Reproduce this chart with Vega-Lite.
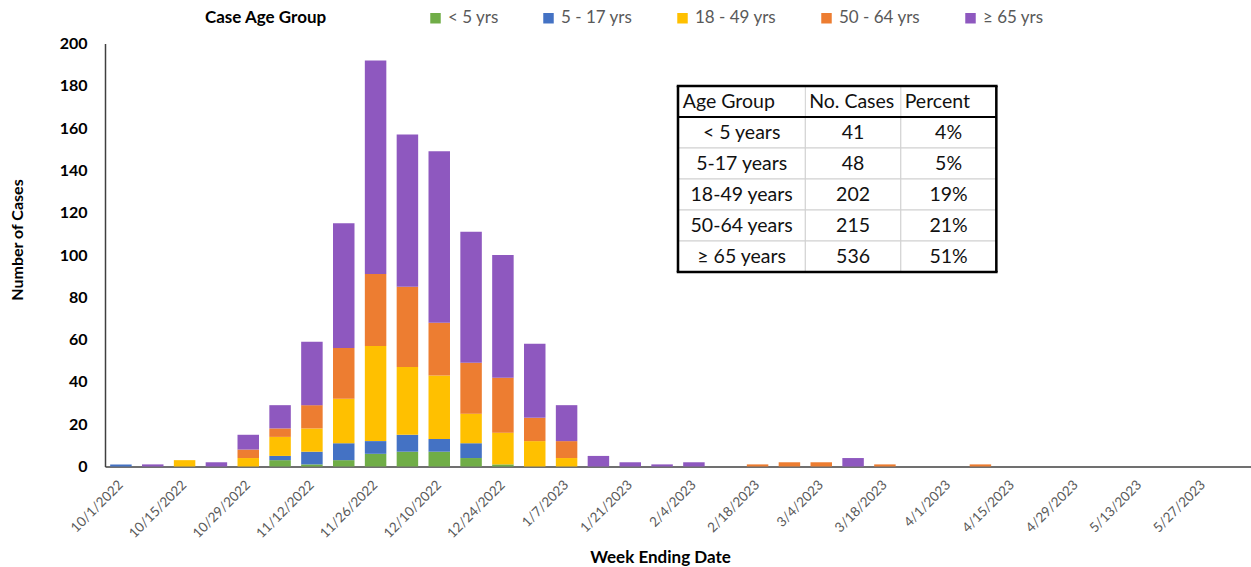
{
  "$schema": "https://vega.github.io/schema/vega-lite/v6.json",
  "autosize": {"type": "none"},
  "width": 1146,
  "height": 423,
  "padding": {"left": 105, "top": 43.5, "right": 0, "bottom": 100.5},
  "background": "white",
  "config": {"view": {"stroke": null}, "font": "Lato"},
  "datasets": {
    "groups": [
      {"group": "< 5 yrs", "rank": 1},
      {"group": "5 - 17 yrs", "rank": 2},
      {"group": "18 - 49 yrs", "rank": 3},
      {"group": "50 - 64 yrs", "rank": 4},
      {"group": "≥ 65 yrs", "rank": 5}
    ],
    "weekly": [
      {"week": "10/1/2022", "group": "5 - 17 yrs", "cases": 1},
      {"week": "10/8/2022", "group": "≥ 65 yrs", "cases": 1},
      {"week": "10/15/2022", "group": "18 - 49 yrs", "cases": 3},
      {"week": "10/22/2022", "group": "≥ 65 yrs", "cases": 2},
      {"week": "10/29/2022", "group": "18 - 49 yrs", "cases": 4},
      {"week": "10/29/2022", "group": "50 - 64 yrs", "cases": 4},
      {"week": "10/29/2022", "group": "≥ 65 yrs", "cases": 7},
      {"week": "11/5/2022", "group": "< 5 yrs", "cases": 3},
      {"week": "11/5/2022", "group": "5 - 17 yrs", "cases": 2},
      {"week": "11/5/2022", "group": "18 - 49 yrs", "cases": 9},
      {"week": "11/5/2022", "group": "50 - 64 yrs", "cases": 4},
      {"week": "11/5/2022", "group": "≥ 65 yrs", "cases": 11},
      {"week": "11/12/2022", "group": "< 5 yrs", "cases": 1},
      {"week": "11/12/2022", "group": "5 - 17 yrs", "cases": 6},
      {"week": "11/12/2022", "group": "18 - 49 yrs", "cases": 11},
      {"week": "11/12/2022", "group": "50 - 64 yrs", "cases": 11},
      {"week": "11/12/2022", "group": "≥ 65 yrs", "cases": 30},
      {"week": "11/19/2022", "group": "< 5 yrs", "cases": 3},
      {"week": "11/19/2022", "group": "5 - 17 yrs", "cases": 8},
      {"week": "11/19/2022", "group": "18 - 49 yrs", "cases": 21},
      {"week": "11/19/2022", "group": "50 - 64 yrs", "cases": 24},
      {"week": "11/19/2022", "group": "≥ 65 yrs", "cases": 59},
      {"week": "11/26/2022", "group": "< 5 yrs", "cases": 6},
      {"week": "11/26/2022", "group": "5 - 17 yrs", "cases": 6},
      {"week": "11/26/2022", "group": "18 - 49 yrs", "cases": 45},
      {"week": "11/26/2022", "group": "50 - 64 yrs", "cases": 34},
      {"week": "11/26/2022", "group": "≥ 65 yrs", "cases": 101},
      {"week": "12/3/2022", "group": "< 5 yrs", "cases": 7},
      {"week": "12/3/2022", "group": "5 - 17 yrs", "cases": 8},
      {"week": "12/3/2022", "group": "18 - 49 yrs", "cases": 32},
      {"week": "12/3/2022", "group": "50 - 64 yrs", "cases": 38},
      {"week": "12/3/2022", "group": "≥ 65 yrs", "cases": 72},
      {"week": "12/10/2022", "group": "< 5 yrs", "cases": 7},
      {"week": "12/10/2022", "group": "5 - 17 yrs", "cases": 6},
      {"week": "12/10/2022", "group": "18 - 49 yrs", "cases": 30},
      {"week": "12/10/2022", "group": "50 - 64 yrs", "cases": 25},
      {"week": "12/10/2022", "group": "≥ 65 yrs", "cases": 81},
      {"week": "12/17/2022", "group": "< 5 yrs", "cases": 4},
      {"week": "12/17/2022", "group": "5 - 17 yrs", "cases": 7},
      {"week": "12/17/2022", "group": "18 - 49 yrs", "cases": 14},
      {"week": "12/17/2022", "group": "50 - 64 yrs", "cases": 24},
      {"week": "12/17/2022", "group": "≥ 65 yrs", "cases": 62},
      {"week": "12/24/2022", "group": "< 5 yrs", "cases": 1},
      {"week": "12/24/2022", "group": "18 - 49 yrs", "cases": 15},
      {"week": "12/24/2022", "group": "50 - 64 yrs", "cases": 26},
      {"week": "12/24/2022", "group": "≥ 65 yrs", "cases": 58},
      {"week": "12/31/2022", "group": "18 - 49 yrs", "cases": 12},
      {"week": "12/31/2022", "group": "50 - 64 yrs", "cases": 11},
      {"week": "12/31/2022", "group": "≥ 65 yrs", "cases": 35},
      {"week": "1/7/2023", "group": "18 - 49 yrs", "cases": 4},
      {"week": "1/7/2023", "group": "50 - 64 yrs", "cases": 8},
      {"week": "1/7/2023", "group": "≥ 65 yrs", "cases": 17},
      {"week": "1/14/2023", "group": "≥ 65 yrs", "cases": 5},
      {"week": "1/21/2023", "group": "≥ 65 yrs", "cases": 2},
      {"week": "1/28/2023", "group": "≥ 65 yrs", "cases": 1},
      {"week": "2/4/2023", "group": "≥ 65 yrs", "cases": 2},
      {"week": "2/18/2023", "group": "50 - 64 yrs", "cases": 1},
      {"week": "2/25/2023", "group": "50 - 64 yrs", "cases": 2},
      {"week": "3/4/2023", "group": "50 - 64 yrs", "cases": 2},
      {"week": "3/11/2023", "group": "≥ 65 yrs", "cases": 4},
      {"week": "3/18/2023", "group": "50 - 64 yrs", "cases": 1},
      {"week": "4/8/2023", "group": "50 - 64 yrs", "cases": 1}
    ],
    "tablehead": [
      {"group": "Age Group", "cases": "No. Cases", "percent": "Percent"}
    ],
    "table": [
      {"group": "< 5 years", "cases": 41, "percent": "4%"},
      {"group": "5-17 years", "cases": 48, "percent": "5%"},
      {"group": "18-49 years", "cases": 202, "percent": "19%"},
      {"group": "50-64 years", "cases": 215, "percent": "21%"},
      {"group": "≥ 65 years", "cases": 536, "percent": "51%"}
    ]
  },
  "layer": [
    {
      "data": {"name": "weekly"},
      "transform": [
        {"lookup": "group", "from": {"data": {"name": "groups"}, "key": "group", "fields": ["rank"]}}
      ],
      "mark": {"type": "bar"},
      "encoding": {
        "x": {
          "field": "week",
          "type": "ordinal",
          "scale": {
            "domain": ["10/1/2022", "10/8/2022", "10/15/2022", "10/22/2022", "10/29/2022", "11/5/2022", "11/12/2022", "11/19/2022", "11/26/2022", "12/3/2022", "12/10/2022", "12/17/2022", "12/24/2022", "12/31/2022", "1/7/2023", "1/14/2023", "1/21/2023", "1/28/2023", "2/4/2023", "2/11/2023", "2/18/2023", "2/25/2023", "3/4/2023", "3/11/2023", "3/18/2023", "3/25/2023", "4/1/2023", "4/8/2023", "4/15/2023", "4/22/2023", "4/29/2023", "5/6/2023", "5/13/2023", "5/20/2023", "5/27/2023", "6/3/2023"],
            "paddingInner": 0.325,
            "paddingOuter": 0.1625
          },
          "axis": {
            "values": ["10/1/2022", "10/15/2022", "10/29/2022", "11/12/2022", "11/26/2022", "12/10/2022", "12/24/2022", "1/7/2023", "1/21/2023", "2/4/2023", "2/18/2023", "3/4/2023", "3/18/2023", "4/1/2023", "4/15/2023", "4/29/2023", "5/13/2023", "5/27/2023"],
            "labelAngle": -45,
            "labelAlign": "right",
            "labelBaseline": "middle",
            "labelFontSize": 13.5,
            "labelColor": "#595959",
            "labelOverlap": false,
            "labelPadding": 16,
            "ticks": false,
            "domainColor": "#404040",
            "domainWidth": 1.5,
            "title": "Week Ending Date",
            "titleFontSize": 17,
            "titleFontWeight": "bold",
            "titleColor": "black",
            "titleX": 555,
            "titleY": 96,
            "titleBaseline": "alphabetic"
          }
        },
        "y": {
          "field": "cases",
          "type": "quantitative",
          "stack": "zero",
          "scale": {"domain": [0, 200], "nice": false},
          "axis": {
            "values": [0, 20, 40, 60, 80, 100, 120, 140, 160, 180, 200],
            "grid": false,
            "ticks": false,
            "labelFontSize": 16,
            "labelFontWeight": "bold",
            "labelColor": "black",
            "labelPadding": 18,
            "domainColor": "#404040",
            "domainWidth": 1.5,
            "title": "Number of Cases",
            "titleFontSize": 16,
            "titleFontWeight": "bold",
            "titleColor": "black",
            "titleX": -80,
            "titleY": 196
          }
        },
        "color": {
          "field": "group",
          "type": "nominal",
          "sort": ["< 5 yrs", "5 - 17 yrs", "18 - 49 yrs", "50 - 64 yrs", "≥ 65 yrs"],
          "scale": {
            "domain": ["< 5 yrs", "5 - 17 yrs", "18 - 49 yrs", "50 - 64 yrs", "≥ 65 yrs"],
            "range": ["#70AD47", "#4472C4", "#FFC000", "#ED7D31", "#8E58BF"]
          },
          "legend": {
            "orient": "none",
            "legendX": 100,
            "legendY": -34,
            "direction": "horizontal",
            "title": "Case Age Group",
            "titleOrient": "left",
            "titleFontSize": 17,
            "titleFontWeight": "bold",
            "titleColor": "black",
            "titlePadding": 100,
            "labelFontSize": 17,
            "labelColor": "#595959",
            "symbolType": "square",
            "symbolSize": 110,
            "symbolStrokeWidth": 0,
            "columnPadding": 41,
            "labelOffset": 4
          }
        },
        "order": {"field": "rank", "type": "quantitative", "sort": "ascending"}
      }
    },
    {
      "layer": [
        {
          "data": {"name": "table"},
          "mark": {"type": "rect", "fill": "white", "stroke": "#D0D0D0", "strokeWidth": 1},
          "encoding": {
            "x": {"datum": 18, "type": "quantitative", "scale": {"domain": [0, 36], "nice": false, "zero": false}, "axis": null},
            "x2": {"datum": 22},
            "y": {"field": "group", "type": "nominal", "scale": {"domain": ["Age Group", "< 5 years", "5-17 years", "18-49 years", "50-64 years", "≥ 65 years"], "range": [42.5, 228.5], "paddingInner": 0, "paddingOuter": 0}, "axis": null}
          }
        },
        {
          "data": {"name": "table"},
          "mark": {"type": "rect", "fill": "white", "stroke": "#D0D0D0", "strokeWidth": 1},
          "encoding": {
            "x": {"datum": 22, "type": "quantitative", "scale": {"domain": [0, 36], "nice": false, "zero": false}, "axis": null},
            "x2": {"datum": 25},
            "y": {"field": "group", "type": "nominal", "scale": {"domain": ["Age Group", "< 5 years", "5-17 years", "18-49 years", "50-64 years", "≥ 65 years"], "range": [42.5, 228.5], "paddingInner": 0, "paddingOuter": 0}, "axis": null}
          }
        },
        {
          "data": {"name": "table"},
          "mark": {"type": "rect", "fill": "white", "stroke": "#D0D0D0", "strokeWidth": 1},
          "encoding": {
            "x": {"datum": 25, "type": "quantitative", "scale": {"domain": [0, 36], "nice": false, "zero": false}, "axis": null},
            "x2": {"datum": 28},
            "y": {"field": "group", "type": "nominal", "scale": {"domain": ["Age Group", "< 5 years", "5-17 years", "18-49 years", "50-64 years", "≥ 65 years"], "range": [42.5, 228.5], "paddingInner": 0, "paddingOuter": 0}, "axis": null}
          }
        },
        {
          "data": {"name": "tablehead"},
          "mark": {"type": "rect", "fill": "white", "stroke": "#D0D0D0", "strokeWidth": 1},
          "encoding": {
            "x": {"datum": 22, "type": "quantitative", "scale": {"domain": [0, 36], "nice": false, "zero": false}, "axis": null},
            "x2": {"datum": 25},
            "y": {"field": "group", "type": "nominal", "scale": {"domain": ["Age Group", "< 5 years", "5-17 years", "18-49 years", "50-64 years", "≥ 65 years"], "range": [42.5, 228.5], "paddingInner": 0, "paddingOuter": 0}, "axis": null}
          }
        },
        {
          "data": {"name": "tablehead"},
          "mark": {"type": "rule", "color": "black", "strokeWidth": 2.5},
          "encoding": {
            "x": {"datum": 17.96, "type": "quantitative", "scale": {"domain": [0, 36], "nice": false, "zero": false}, "axis": null},
            "x2": {"datum": 28.04},
            "y": {"field": "group", "type": "nominal", "bandPosition": 0, "scale": {"domain": ["Age Group", "< 5 years", "5-17 years", "18-49 years", "50-64 years", "≥ 65 years"], "range": [42.5, 228.5], "paddingInner": 0, "paddingOuter": 0}, "axis": null}
          }
        },
        {
          "data": {"name": "tablehead"},
          "mark": {"type": "rule", "color": "black", "strokeWidth": 2},
          "encoding": {
            "x": {"datum": 18, "type": "quantitative", "scale": {"domain": [0, 36], "nice": false, "zero": false}, "axis": null},
            "x2": {"datum": 28},
            "y": {"field": "group", "type": "nominal", "bandPosition": 1, "scale": {"domain": ["Age Group", "< 5 years", "5-17 years", "18-49 years", "50-64 years", "≥ 65 years"], "range": [42.5, 228.5], "paddingInner": 0, "paddingOuter": 0}, "axis": null}
          }
        },
        {
          "data": {"name": "table"},
          "transform": [{"filter": "datum.group === '≥ 65 years'"}],
          "mark": {"type": "rule", "color": "black", "strokeWidth": 2.5},
          "encoding": {
            "x": {"datum": 17.96, "type": "quantitative", "scale": {"domain": [0, 36], "nice": false, "zero": false}, "axis": null},
            "x2": {"datum": 28.04},
            "y": {"field": "group", "type": "nominal", "bandPosition": 1, "scale": {"domain": ["Age Group", "< 5 years", "5-17 years", "18-49 years", "50-64 years", "≥ 65 years"], "range": [42.5, 228.5], "paddingInner": 0, "paddingOuter": 0}, "axis": null}
          }
        },
        {
          "data": {"name": "table"},
          "mark": {"type": "rect", "fill": "black"},
          "encoding": {
            "x": {"datum": 17.96, "type": "quantitative", "scale": {"domain": [0, 36], "nice": false, "zero": false}, "axis": null},
            "x2": {"datum": 18.04},
            "y": {"field": "group", "type": "nominal", "scale": {"domain": ["Age Group", "< 5 years", "5-17 years", "18-49 years", "50-64 years", "≥ 65 years"], "range": [42.5, 228.5], "paddingInner": 0, "paddingOuter": 0}, "axis": null}
          }
        },
        {
          "data": {"name": "tablehead"},
          "mark": {"type": "rect", "fill": "black"},
          "encoding": {
            "x": {"datum": 17.96, "type": "quantitative", "scale": {"domain": [0, 36], "nice": false, "zero": false}, "axis": null},
            "x2": {"datum": 18.04},
            "y": {"field": "group", "type": "nominal", "scale": {"domain": ["Age Group", "< 5 years", "5-17 years", "18-49 years", "50-64 years", "≥ 65 years"], "range": [42.5, 228.5], "paddingInner": 0, "paddingOuter": 0}, "axis": null}
          }
        },
        {
          "data": {"name": "table"},
          "mark": {"type": "rect", "fill": "black"},
          "encoding": {
            "x": {"datum": 27.96, "type": "quantitative", "scale": {"domain": [0, 36], "nice": false, "zero": false}, "axis": null},
            "x2": {"datum": 28.04},
            "y": {"field": "group", "type": "nominal", "scale": {"domain": ["Age Group", "< 5 years", "5-17 years", "18-49 years", "50-64 years", "≥ 65 years"], "range": [42.5, 228.5], "paddingInner": 0, "paddingOuter": 0}, "axis": null}
          }
        },
        {
          "data": {"name": "tablehead"},
          "mark": {"type": "rect", "fill": "black"},
          "encoding": {
            "x": {"datum": 27.96, "type": "quantitative", "scale": {"domain": [0, 36], "nice": false, "zero": false}, "axis": null},
            "x2": {"datum": 28.04},
            "y": {"field": "group", "type": "nominal", "scale": {"domain": ["Age Group", "< 5 years", "5-17 years", "18-49 years", "50-64 years", "≥ 65 years"], "range": [42.5, 228.5], "paddingInner": 0, "paddingOuter": 0}, "axis": null}
          }
        },
        {
          "data": {"name": "tablehead"},
          "mark": {"type": "text", "align": "left", "baseline": "middle", "fontSize": 19.5, "color": "#111111"},
          "encoding": {
            "x": {"datum": 18.15, "type": "quantitative", "scale": {"domain": [0, 36], "nice": false, "zero": false}, "axis": null},
            "y": {"field": "group", "type": "nominal", "scale": {"domain": ["Age Group", "< 5 years", "5-17 years", "18-49 years", "50-64 years", "≥ 65 years"], "range": [42.5, 228.5], "paddingInner": 0, "paddingOuter": 0}, "axis": null},
            "text": {"field": "group"}
          }
        },
        {
          "data": {"name": "tablehead"},
          "mark": {"type": "text", "align": "left", "baseline": "middle", "fontSize": 19.5, "color": "#111111"},
          "encoding": {
            "x": {"datum": 22.12, "type": "quantitative", "scale": {"domain": [0, 36], "nice": false, "zero": false}, "axis": null},
            "y": {"field": "group", "type": "nominal", "scale": {"domain": ["Age Group", "< 5 years", "5-17 years", "18-49 years", "50-64 years", "≥ 65 years"], "range": [42.5, 228.5], "paddingInner": 0, "paddingOuter": 0}, "axis": null},
            "text": {"field": "cases"}
          }
        },
        {
          "data": {"name": "tablehead"},
          "mark": {"type": "text", "align": "left", "baseline": "middle", "fontSize": 19.5, "color": "#111111"},
          "encoding": {
            "x": {"datum": 25.12, "type": "quantitative", "scale": {"domain": [0, 36], "nice": false, "zero": false}, "axis": null},
            "y": {"field": "group", "type": "nominal", "scale": {"domain": ["Age Group", "< 5 years", "5-17 years", "18-49 years", "50-64 years", "≥ 65 years"], "range": [42.5, 228.5], "paddingInner": 0, "paddingOuter": 0}, "axis": null},
            "text": {"field": "percent"}
          }
        },
        {
          "data": {"name": "table"},
          "mark": {"type": "text", "align": "center", "baseline": "middle", "fontSize": 19.5, "color": "#111111"},
          "encoding": {
            "x": {"datum": 20, "type": "quantitative", "scale": {"domain": [0, 36], "nice": false, "zero": false}, "axis": null},
            "y": {"field": "group", "type": "nominal", "scale": {"domain": ["Age Group", "< 5 years", "5-17 years", "18-49 years", "50-64 years", "≥ 65 years"], "range": [42.5, 228.5], "paddingInner": 0, "paddingOuter": 0}, "axis": null},
            "text": {"field": "group"}
          }
        },
        {
          "data": {"name": "table"},
          "mark": {"type": "text", "align": "center", "baseline": "middle", "fontSize": 19.5, "color": "#111111"},
          "encoding": {
            "x": {"datum": 23.5, "type": "quantitative", "scale": {"domain": [0, 36], "nice": false, "zero": false}, "axis": null},
            "y": {"field": "group", "type": "nominal", "scale": {"domain": ["Age Group", "< 5 years", "5-17 years", "18-49 years", "50-64 years", "≥ 65 years"], "range": [42.5, 228.5], "paddingInner": 0, "paddingOuter": 0}, "axis": null},
            "text": {"field": "cases"}
          }
        },
        {
          "data": {"name": "table"},
          "mark": {"type": "text", "align": "center", "baseline": "middle", "fontSize": 19.5, "color": "#111111"},
          "encoding": {
            "x": {"datum": 26.5, "type": "quantitative", "scale": {"domain": [0, 36], "nice": false, "zero": false}, "axis": null},
            "y": {"field": "group", "type": "nominal", "scale": {"domain": ["Age Group", "< 5 years", "5-17 years", "18-49 years", "50-64 years", "≥ 65 years"], "range": [42.5, 228.5], "paddingInner": 0, "paddingOuter": 0}, "axis": null},
            "text": {"field": "percent"}
          }
        }
      ]
    }
  ],
  "resolve": {"scale": {"x": "independent", "y": "independent"}}
}
